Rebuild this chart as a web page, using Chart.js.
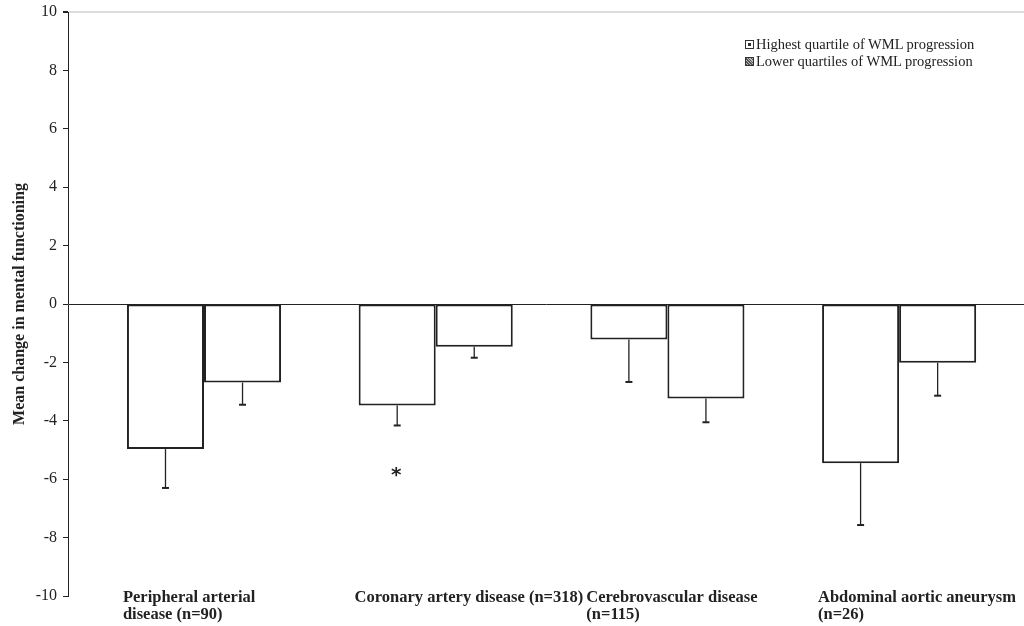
<!DOCTYPE html>
<html>
<head>
<meta charset="utf-8">
<script src="https://cdn.jsdelivr.net/npm/chart.js@4.4.1/dist/chart.umd.min.js"></script>
<style>
  html, body { margin: 0; padding: 0; background: #fff; }
  #wrap { position: relative; width: 1024px; height: 626px; }
  #legenda {
    position: absolute; left: 745px; top: 36px;
    font: 14.5px "Liberation Serif", "DejaVu Serif", serif; color: #222;
    line-height: 17px;
  }
  .item { display: flex; align-items: center; white-space: nowrap; }
  .caixa {
    width: 7px; height: 7px; border: 1px solid #333; margin-right: 2px;
    position: relative; background: #fff;
  }
  .caixa.vazia::after {
    content: ""; position: absolute; left: 2px; top: 2px; width: 3px; height: 3px; background: #333;
  }
  .caixa.hachura {
    background: repeating-linear-gradient(45deg, #555 0 1px, #bbb 1px 2px);
  }
</style>
</head>
<body>
<div id="wrap">
  <canvas id="grafico" width="1024" height="626"></canvas>
  <div id="legenda"></div>
</div>
<script>
// categorias (grupos de doença)
const categorias = [
  ["Peripheral arterial", "disease (n=90)"],
  ["Coronary artery disease (n=318)"],
  ["Cerebrovascular disease", "(n=115)"],
  ["Abdominal aortic aneurysm", "(n=26)"]
];

// médias por grupo
const quartilSuperior = [-4.97, -3.48, -1.22, -5.45];
const quartisInferiores = [-2.69, -1.46, -3.24, -2.01];

// extremidade inferior das barras de erro
const erroSuperior = [-6.30, -4.16, -2.67, -7.57];
const erroInferiores = [-3.45, -1.84, -4.05, -3.14];

const nomesSeries = ["Highest quartile of WML progression", "Lower quartiles of WML progression"];
const ticksY = [-10, -8, -6, -4, -2, 0, 2, 4, 6, 8, 10];

// diferença significativa (*) no grupo coronário
const asteriscos = [{ serie: 0, grupo: 1, valor: -5.75 }];

const fonteSerif = "'Liberation Serif', 'DejaVu Serif', serif";
const deslocRotulo = -0.35; // rótulos começam à esquerda da primeira barra

// barras de erro só para baixo, com traço no fim
const barrasErro = {
  id: "barrasErro",
  afterDatasetsDraw(chart) {
    const { ctx } = chart;
    const y = chart.scales.y;
    const erros = [erroSuperior, erroInferiores];
    ctx.save();
    ctx.strokeStyle = "#222";
    chart.data.datasets.forEach((ds, d) => {
      const meta = chart.getDatasetMeta(d);
      meta.data.forEach((bar, i) => {
        const yFim = y.getPixelForValue(erros[d][i]);
        ctx.lineWidth = 1.3;
        ctx.beginPath();
        ctx.moveTo(bar.x, bar.y);
        ctx.lineTo(bar.x, yFim);
        ctx.stroke();
        ctx.lineWidth = 2;
        ctx.beginPath();
        ctx.moveTo(bar.x - 3.5, yFim);
        ctx.lineTo(bar.x + 3.5, yFim);
        ctx.stroke();
      });
    });
    ctx.fillStyle = "#222";
    ctx.font = "bold 20px 'DejaVu Sans', sans-serif";
    ctx.textAlign = "center";
    ctx.textBaseline = "middle";
    asteriscos.forEach((a) => {
      const bar = chart.getDatasetMeta(a.serie).data[a.grupo];
      ctx.fillText("*", bar.x - 1, y.getPixelForValue(a.valor) + 4);
    });
    ctx.restore();
  }
};

const ctx = document.getElementById("grafico");

new Chart(ctx, {
  type: "bar",
  data: {
    datasets: [
      {
        label: nomesSeries[0],
        data: quartilSuperior.map((v, i) => ({ x: i, y: v })),
        backgroundColor: "#fff",
        borderColor: "#222",
        borderWidth: 2,
        borderSkipped: false
      },
      {
        label: nomesSeries[1],
        data: quartisInferiores.map((v, i) => ({ x: i, y: v })),
        backgroundColor: "#fff",
        borderColor: "#222",
        borderWidth: 2,
        borderSkipped: false
      }
    ]
  },
  options: {
    responsive: false,
    animation: false,
    layout: { padding: { top: 12, right: 0, left: 0, bottom: 0 } },
    datasets: { bar: { categoryPercentage: 0.665, barPercentage: 1 } },
    plugins: {
      legend: { display: false },
      tooltip: { enabled: false }
    },
    scales: {
      x: {
        type: "linear",
        offset: false,
        min: -0.587,
        max: 3.539,
        grid: { display: false, drawTicks: false, tickLength: 0 },
        border: { display: false },
        afterBuildTicks: (scale) => {
          scale.ticks = categorias.map((_, i) => ({ value: i + deslocRotulo }));
        },
        afterFit: (scale) => {
          scale.height = 30;
          // os rótulos sobem um pouco acima da área do eixo, sem corte
          scale._computeLabelArea = () => undefined;
        },
        ticks: {
          align: "start",
          padding: -7,
          maxRotation: 0,
          autoSkip: false,
          color: "#222",
          font: { family: fonteSerif, size: 16.5, weight: "bold", lineHeight: 1.03 },
          callback: (v) => categorias[Math.round(v - deslocRotulo)]
        }
      },
      y: {
        min: -10,
        max: 10,
        afterBuildTicks: (scale) => {
          scale.ticks = ticksY.map((v) => ({ value: v }));
        },
        afterFit: (scale) => {
          scale.width = 68;
          scale.paddingTop = 0;
          scale.paddingBottom = 0;
        },
        border: { display: true, color: "#222", width: 1 },
        grid: {
          drawTicks: true,
          tickLength: 5,
          tickColor: "#222",
          color: (c) => c.tick && c.tick.value === 0 ? "#222" : (c.tick && c.tick.value === 10 ? "#ddd" : "rgba(0,0,0,0)"),
          lineWidth: (c) => c.tick && c.tick.value === 10 ? 2 : 1
        },
        ticks: {
          padding: 6,
          color: "#222",
          font: { family: fonteSerif, size: 16 }
        },
        title: {
          display: true,
          text: "Mean change in mental functioning",
          color: "#222",
          padding: { top: 10, bottom: 0 },
          font: { family: fonteSerif, size: 16, weight: "bold" }
        }
      }
    }
  },
  plugins: [barrasErro]
});

// legenda simples no canto superior direito
const legenda = document.getElementById("legenda");
nomesSeries.forEach((nome, i) => {
  const item = document.createElement("div");
  item.className = "item";
  const caixa = document.createElement("span");
  caixa.className = "caixa " + (i === 0 ? "vazia" : "hachura");
  const texto = document.createElement("span");
  texto.textContent = nome;
  item.appendChild(caixa);
  item.appendChild(texto);
  legenda.appendChild(item);
});
</script>
</body>
</html>
